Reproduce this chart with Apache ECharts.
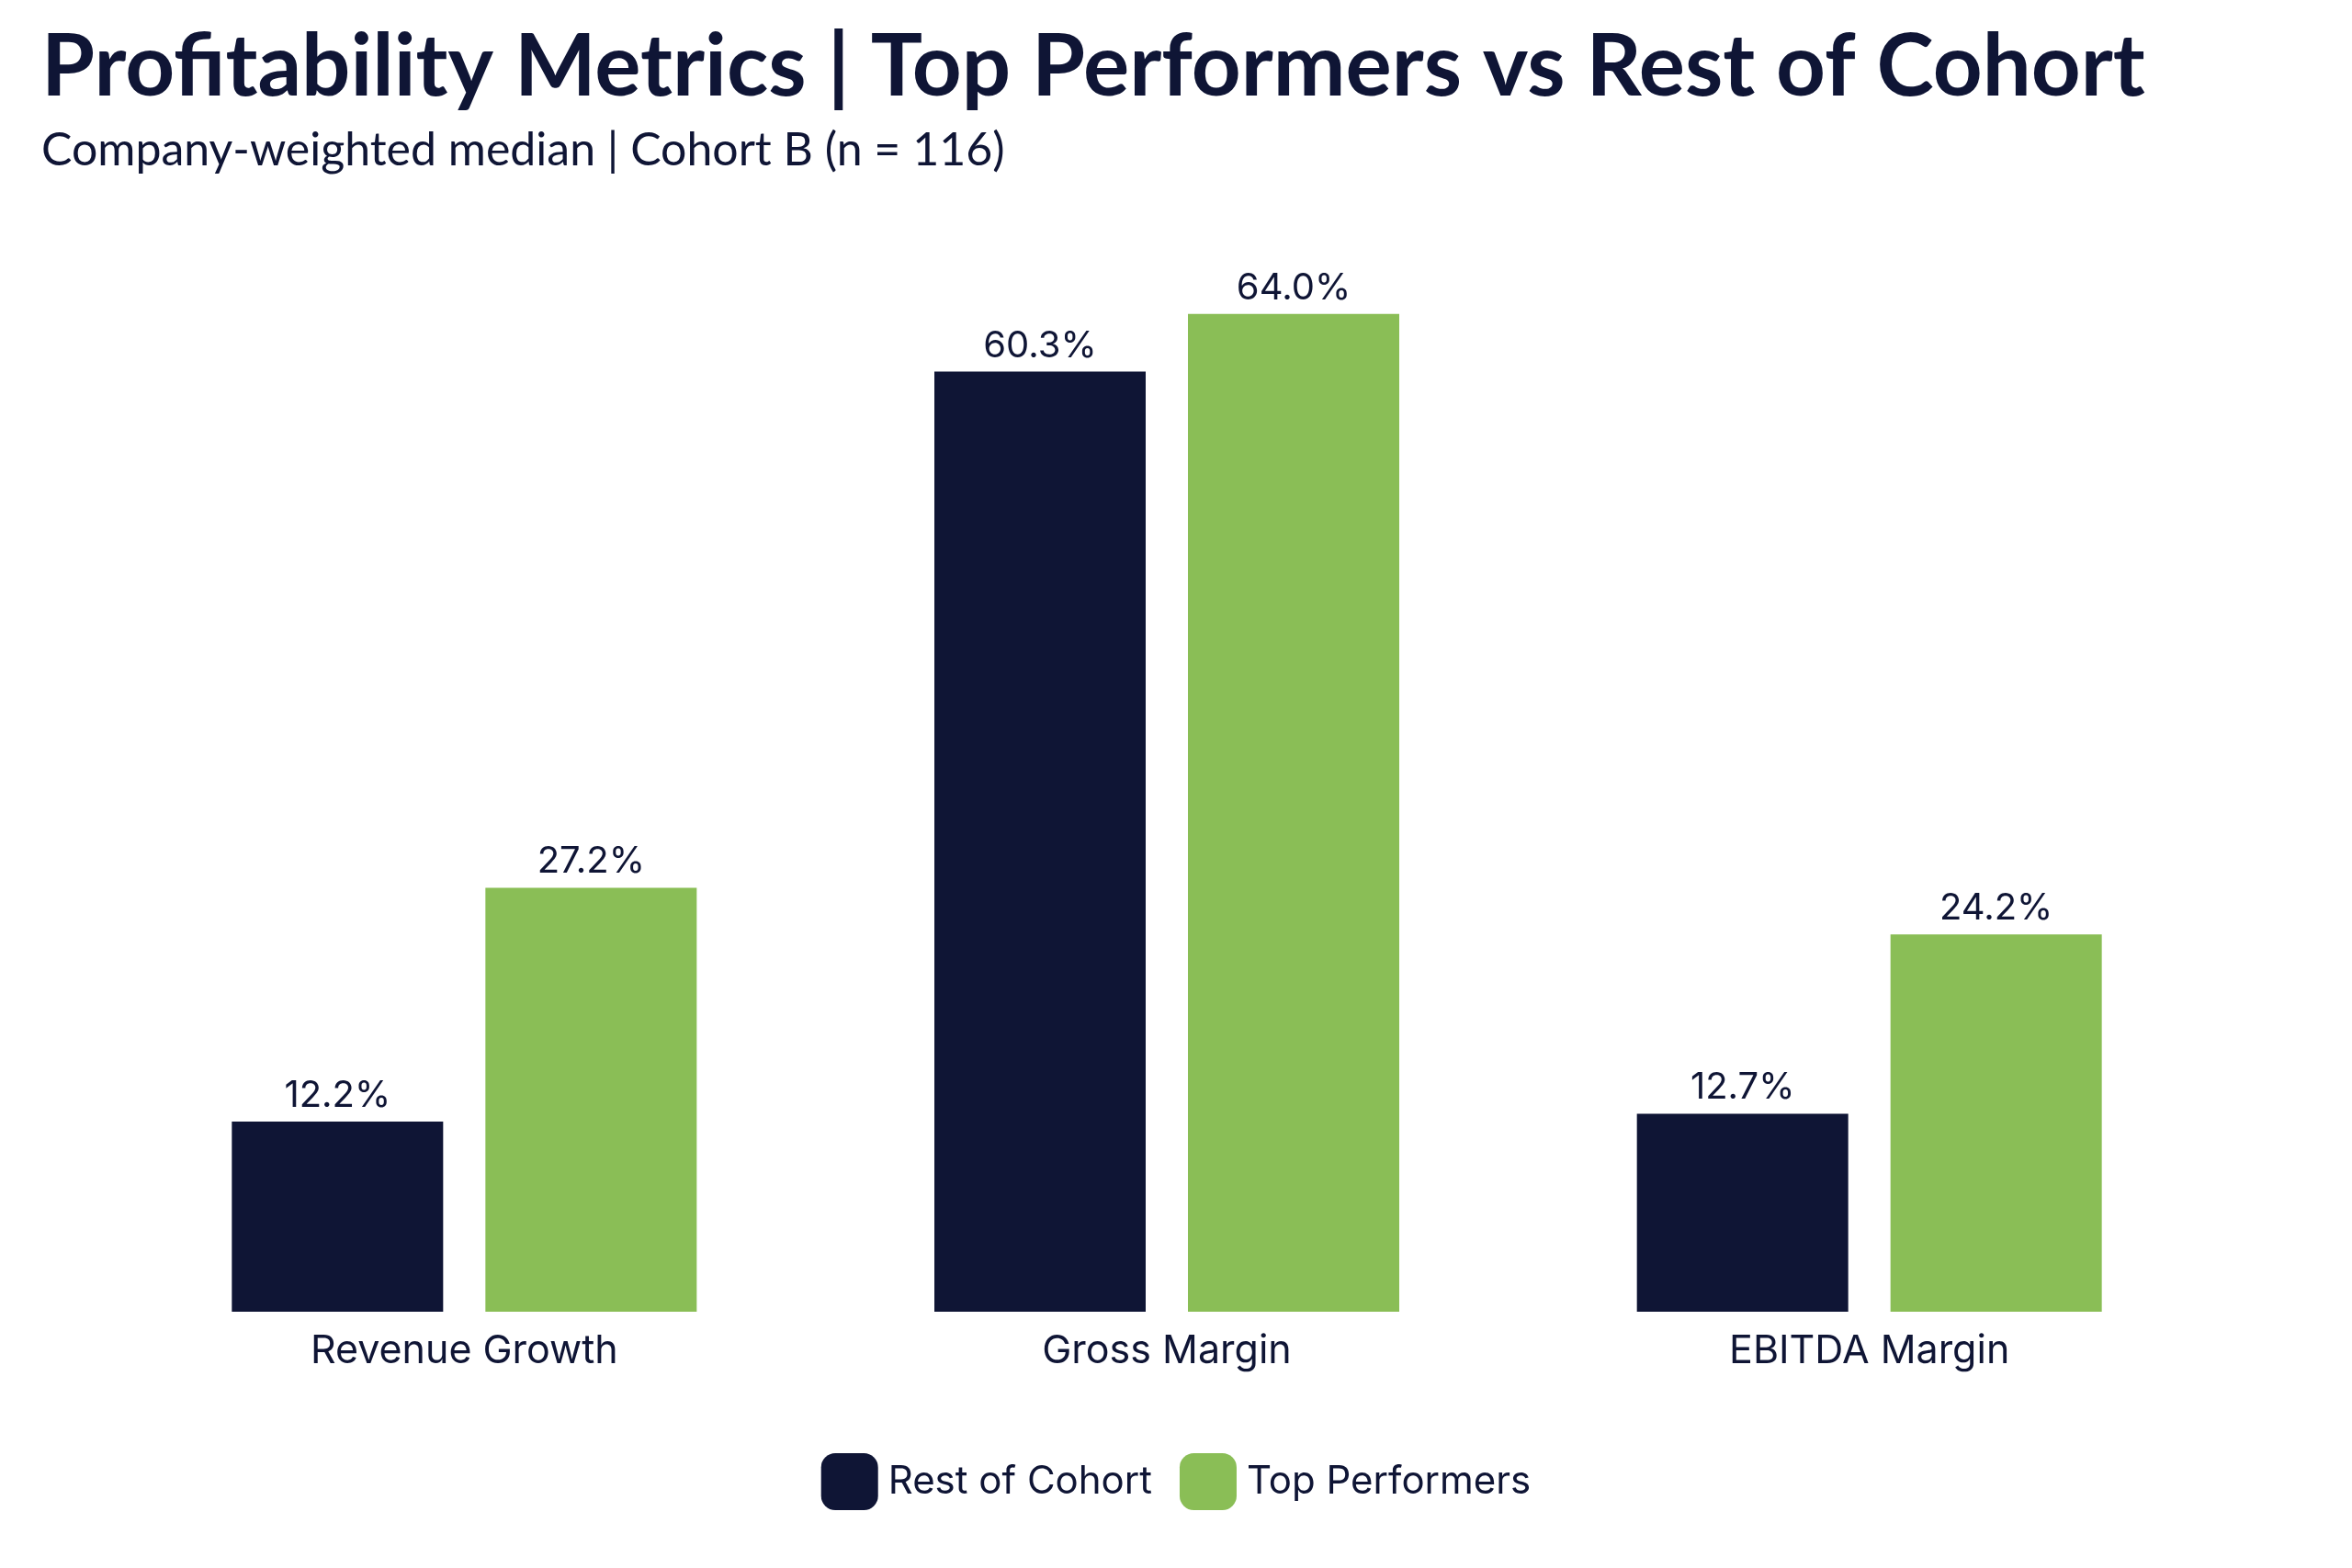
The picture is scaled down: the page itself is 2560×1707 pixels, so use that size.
<!doctype html>
<html lang="en">
<head>
	<meta charset="UTF-8">
	<title>Profitability Metrics</title>
	<script src="https://cdnjs.cloudflare.com/ajax/libs/echarts/6.0.0/echarts.min.js"></script>
	<style>
		html, body { margin: 0; padding: 0; background: #fff; }
		#main { width: 2560px; height: 1707px; }
	</style>
</head>
<body>
	<div id="main"></div>
	<script type="text/javascript">
		var categories = ['Revenue Growth', 'Gross Margin', 'EBITDA Margin'];
		var restOfCohort = [12.2, 60.3, 12.7];
		var topPerformers = [27.2, 64.0, 24.2];

		var navy = '#0f1535', green = '#8abe56';
		var myChart = echarts.init(document.getElementById('main'));

		var labelStyle = {
			show: true,
			position: 'top',
			distance: 8,
			color: navy,
			fontFamily: 'Inter',
			fontSize: 40,
			formatter: p => p.value.toFixed(1) + '%'
		};

		option = {
			backgroundColor: '#fff',
			title: {
				text: 'Profitability Metrics | Top Performers vs Rest of Cohort',
				subtext: 'Company-weighted median | Cohort B (n = 116)',
				left: 40,
				top: 22,
				itemGap: 18,
				textStyle: { color: navy, fontFamily: 'Lato', fontWeight: 'bold', fontSize: 94 },
				subtextStyle: { color: navy, fontFamily: 'Lato', fontSize: 50 }
			},
			legend: {
				bottom: 58,
				left: 'center',
				itemWidth: 62,
				itemHeight: 62,
				itemGap: 30,
				textStyle: { color: navy, fontFamily: 'Inter', fontSize: 42, padding: [0, 0, 0, 6] },
				data: ['Rest of Cohort', 'Top Performers']
			},
			grid: { left: 123, right: 143, top: 240, bottom: 279 },
			xAxis: {
				type: 'category',
				data: categories,
				axisLine: { show: false },
				axisTick: { show: false },
				axisLabel: { color: navy, fontFamily: 'Inter', fontSize: 43, margin: 22 }
			},
			yAxis: { type: 'value', min: 0, max: 70, show: false, splitLine: { show: false } },
			series: [
				{ name: 'Rest of Cohort', type: 'bar', data: restOfCohort, barWidth: 230, barGap: '20%', itemStyle: { color: navy }, label: labelStyle },
				{ name: 'Top Performers', type: 'bar', data: topPerformers, barWidth: 230, itemStyle: { color: green }, label: labelStyle }
			]
		};
		myChart.setOption(option);
	</script>
</body>
</html>
